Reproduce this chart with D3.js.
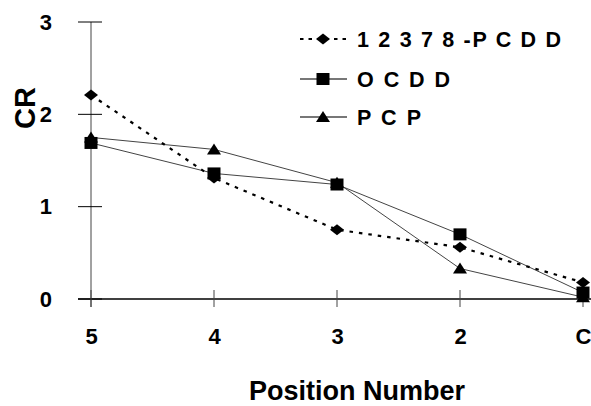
<!DOCTYPE html>
<html><head><meta charset="utf-8">
<script src="https://cdn.jsdelivr.net/npm/d3@7"></script>
<style>body{margin:0;background:#fff}text{font-family:"Liberation Sans",Arial,sans-serif;font-weight:bold;fill:#000}</style>
</head><body><svg id="c" width="591" height="406"></svg>
<script>
const categories = ["5","4","3","2","C"];
const pcdd = [2.21, 1.31, 0.75, 0.56, 0.18];
const ocdd = [1.69, 1.36, 1.24, 0.70, 0.07];
const pcp  = [1.75, 1.62, 1.26, 0.33, 0.02];
const yTicks = [0,1,2,3];
const seriesNames = ["1 2 3 7 8 -P C D D", "O C D D", "P C P"];

const svg = d3.select("#c");
const x = d3.scalePoint().domain(categories).range([91, 583]);
const y = d3.scaleLinear().domain([0,3]).range([299, 22]);

// custom marker shapes
const diamondType = {draw(ctx){ ctx.moveTo(-7,0); ctx.lineTo(0,-5.5); ctx.lineTo(7,0); ctx.lineTo(0,5.5); ctx.closePath(); }};
const squareType = {draw(ctx){ ctx.rect(-6.5,-6,13,12); }};
const triType = {draw(ctx){ ctx.moveTo(-7,5); ctx.lineTo(0,-6); ctx.lineTo(7,5); ctx.closePath(); }};
const sym = {
  diamond: d3.symbol().type(diamondType),
  square: d3.symbol().type(squareType),
  triangle: d3.symbol().type(triType)
};

// axes
const gy = svg.append("g").attr("transform","translate(91,0)")
  .call(d3.axisLeft(y).tickValues(yTicks).tickSize(0).tickPadding(39).tickFormat(d3.format("d")));
gy.select(".domain").remove();
gy.selectAll("text").style("font-size","22px").attr("fill","#000");
svg.append("line").attr("x1",91).attr("x2",91).attr("y1",y(3)).attr("y2",307).attr("stroke","#444").attr("stroke-width",1);
yTicks.forEach(t=>svg.append("line").attr("x1",78).attr("x2",102).attr("y1",y(t)).attr("y2",y(t)).attr("stroke","#000").attr("stroke-width",1));

const gx = svg.append("g").attr("transform","translate(0,299)")
  .call(d3.axisBottom(x).tickSize(0).tickPadding(29));
gx.select(".domain").remove();
gx.selectAll("text").style("font-size","22px").attr("fill","#000");
svg.append("line").attr("x1",78).attr("x2",591).attr("y1",299).attr("y2",299).attr("stroke","#000").attr("stroke-width",1.3);
categories.forEach(c=>svg.append("line").attr("x1",x(c)).attr("x2",x(c)).attr("y1",290).attr("y2",307).attr("stroke","#444").attr("stroke-width",1));

// lines
const line = d3.line().x((d,i)=>x(categories[i])).y(d=>y(d));
svg.append("path").datum(ocdd).attr("d",line).attr("fill","none").attr("stroke","#444").attr("stroke-width",1);
svg.append("path").datum(pcp).attr("d",line).attr("fill","none").attr("stroke","#444").attr("stroke-width",1);
svg.append("path").datum(pcdd).attr("d",line).attr("fill","none").attr("stroke","#000").attr("stroke-width",2.2).attr("stroke-dasharray","3.5,6");

function markers(data, s){
  svg.append("g").selectAll("path").data(data).join("path")
    .attr("transform",(d,i)=>`translate(${x(categories[i])},${y(d)})`)
    .attr("d",sym[s]).attr("fill","#000");
}
markers(pcdd,"diamond");
markers(ocdd,"square");
markers(pcp,"triangle");

// legend
const lg = [
  {name:seriesNames[0], s:"diamond", dash:"3.5,5", w:2.2, y:39, len:204},
  {name:seriesNames[1], s:"square", dash:null, w:2, y:79, len:93},
  {name:seriesNames[2], s:"triangle", dash:null, w:2, y:117, len:64}
];
lg.forEach(l=>{
  const ln = svg.append("line").attr("x1",300).attr("x2",347).attr("y1",l.y).attr("y2",l.y)
    .attr("stroke", l.dash?"#000":"#777").attr("stroke-width",l.w);
  if(l.dash) ln.attr("stroke-dasharray",l.dash);
  svg.append("path").attr("transform",`translate(323,${l.y})`).attr("d",sym[l.s]).attr("fill","#000");
  svg.append("text").attr("x",357).attr("y",l.y+7.8).style("font-size","21.5px")
    .attr("textLength",l.len).attr("lengthAdjust","spacing").text(l.name);
});

// axis titles
svg.append("text").attr("transform","translate(35,108) rotate(-90)").attr("text-anchor","middle").style("font-size","29px").text("CR");
svg.append("text").attr("x",357).attr("y",400).attr("text-anchor","middle").style("font-size","27px").text("Position Number");
</script></body></html>
